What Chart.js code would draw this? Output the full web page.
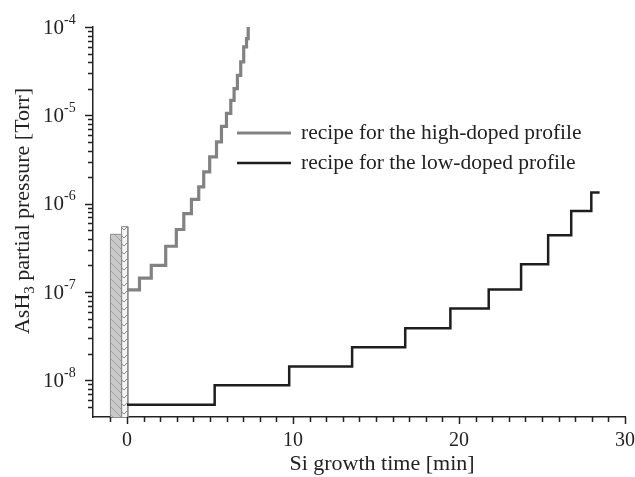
<!DOCTYPE html>
<html>
<head>
<meta charset="utf-8">
<script src="https://cdn.jsdelivr.net/npm/chart.js@4.4.0/dist/chart.umd.min.js"></script>
<style>
  html, body { margin: 0; padding: 0; background: #fff; }
</style>
</head>
<body>
<canvas id="myChart" width="635" height="477"></canvas>
<script>
// step start times [min] and AsH3 levels [Torr]; last point closes the final step
const hiTimes  = [0, 0.75, 1.46, 2.33, 2.97, 3.42, 3.88, 4.32, 4.62, 4.98, 5.39, 5.69, 5.99, 6.25, 6.45, 6.65, 6.85, 7.03, 7.2, 7.3, 7.4];
const hiLevels = [1.06e-7, 1.44e-7, 2.0e-7, 3.3e-7, 5.1e-7, 7.7e-7, 1.12e-6, 1.55e-6, 2.29e-6, 3.38e-6, 5.0e-6, 7.5e-6, 1.05e-5, 1.48e-5, 2.01e-5, 2.84e-5, 4.03e-5, 5.95e-5, 7.4e-5, 9.6e-5, 9.6e-5];

const loTimes  = [0, 5.28, 9.77, 13.56, 16.76, 19.48, 21.79, 23.74, 25.37, 26.76, 27.97, 28.47];
const loLevels = [5.3e-9, 8.8e-9, 1.44e-8, 2.37e-8, 3.9e-8, 6.5e-8, 1.07e-7, 2.06e-7, 4.39e-7, 8.26e-7, 1.34e-6, 1.34e-6];

const seriesNames = ['recipe for the high-doped profile', 'recipe for the low-doped profile'];

// pre-growth blocks before t = 0
const blockStarts = [-1.0, -0.33];
const blockEnds   = [-0.33, 0.05];
const blockTops   = [4.5e-7, 5.5e-7];

const xTickLabels = [0, 10, 20, 30];
const yTickExps   = [-8, -7, -6, -5, -4];

const xMin = -2.05, xMax = 30;
const yMin = 3.85e-9, yMax = 1e-4;

function pts(xs, ys) { return xs.map((x, i) => ({ x: x, y: ys[i] })); }

function blockPts(i) {
  return [
    { x: blockStarts[i], y: yMin }, { x: blockStarts[i], y: blockTops[i] },
    { x: blockEnds[i], y: blockTops[i] }, { x: blockEnds[i], y: yMin }
  ];
}

function hatch(bg, fg, kind) {
  const c = document.createElement('canvas');
  c.width = 8; c.height = 8;
  const g = c.getContext('2d');
  g.fillStyle = bg; g.fillRect(0, 0, 8, 8);
  g.strokeStyle = fg; g.lineWidth = 1;
  g.beginPath();
  if (kind === 'diag') {
    g.moveTo(0, 0); g.lineTo(8, 8);
    g.moveTo(-1, 7); g.lineTo(1, 9);
    g.moveTo(7, -1); g.lineTo(9, 1);
  } else {
    g.moveTo(0, 2); g.lineTo(4, 6); g.lineTo(8, 2);
  }
  g.stroke();
  return g.createPattern(c, 'repeat');
}

const serif = '"Liberation Serif", "DejaVu Serif", serif';

const axisDecor = {
  id: 'axisDecor',
  afterDraw(chart) {
    const ctx = chart.ctx, a = chart.chartArea;
    const x = chart.scales.x, y = chart.scales.y;
    ctx.save();
    ctx.strokeStyle = '#222';
    ctx.lineWidth = 1.5;
    ctx.beginPath();
    x.ticks.forEach(t => {
      const v = t.value;
      if (Math.abs(v - Math.round(v)) > 1e-6) return;
      const px = Math.round(x.getPixelForValue(v)) + 0.5;
      const len = Math.round(v) % 10 === 0 ? 7 : 5;
      ctx.moveTo(px, a.bottom); ctx.lineTo(px, a.bottom + len);
    });
    y.ticks.forEach(t => {
      const v = t.value;
      const e = Math.floor(Math.log10(v) + 1e-9);
      const m = v / Math.pow(10, e);
      if (Math.abs(m - Math.round(m)) > 1e-6) return;
      const py = Math.round(y.getPixelForValue(v)) + 0.5;
      const len = Math.round(m) === 1 ? 8 : 5;
      ctx.moveTo(a.left - len, py); ctx.lineTo(a.left, py);
    });
    ctx.stroke();

    ctx.fillStyle = '#222';
    // x labels
    ctx.font = '20px ' + serif;
    ctx.textAlign = 'center';
    ctx.textBaseline = 'alphabetic';
    xTickLabels.forEach(v => ctx.fillText(String(v), x.getPixelForValue(v), 446));

    // y labels with superscript exponents
    yTickExps.forEach(e => {
      const py = y.getPixelForValue(Math.pow(10, e));
      ctx.font = '21px ' + serif;
      ctx.textAlign = 'right';
      ctx.textBaseline = 'middle';
      ctx.fillText('10', 64, py + 1);
      ctx.font = '14px ' + serif;
      ctx.textAlign = 'left';
      ctx.fillText(String(e), 64, py - 7);
    });

    // x title
    ctx.font = '22px ' + serif;
    ctx.textAlign = 'center';
    ctx.textBaseline = 'alphabetic';
    ctx.fillText('Si growth time [min]', 382, 470);

    // y title with subscript
    ctx.save();
    ctx.translate(29, 211);
    ctx.rotate(-Math.PI / 2);
    const f1 = '22px ' + serif, f2 = '15px ' + serif;
    const p1 = 'AsH', p2 = '3', p3 = ' partial pressure [Torr]';
    ctx.font = f1; const w1 = ctx.measureText(p1).width, w3 = ctx.measureText(p3).width;
    ctx.font = f2; const w2 = ctx.measureText(p2).width;
    let cx = -(w1 + w2 + w3) / 2;
    ctx.textAlign = 'left';
    ctx.textBaseline = 'alphabetic';
    ctx.font = f1; ctx.fillText(p1, cx, 0); cx += w1;
    ctx.font = f2; ctx.fillText(p2, cx, 5); cx += w2;
    ctx.font = f1; ctx.fillText(p3, cx, 0);
    ctx.restore();

    // legend
    ctx.font = '21.5px ' + serif;
    ctx.textAlign = 'left';
    ctx.textBaseline = 'middle';
    [0, 1].forEach(i => {
      const ds = chart.data.datasets[i];
      const ly = i === 0 ? 133 : 163;
      ctx.strokeStyle = ds.borderColor;
      ctx.lineWidth = ds.borderWidth;
      ctx.beginPath(); ctx.moveTo(237, ly); ctx.lineTo(291, ly); ctx.stroke();
      ctx.fillStyle = '#222';
      ctx.fillText(ds.label, 301, ly);
    });
    ctx.restore();
  }
};

const ctx = document.getElementById('myChart').getContext('2d');
const chart = new Chart(ctx, {
  type: 'line',
  data: {
    datasets: [
      { label: seriesNames[0], data: pts(hiTimes, hiLevels), stepped: true, borderColor: '#828282', borderWidth: 3.2, pointRadius: 0, fill: false },
      { label: seriesNames[1], data: pts(loTimes, loLevels), stepped: true, borderColor: '#1e1e1e', borderWidth: 2.5, pointRadius: 0, fill: false },
      { label: 'block1', data: blockPts(0), borderColor: '#8a8a8a', borderWidth: 1, pointRadius: 0, tension: 0, fill: 'start', backgroundColor: hatch('#c9c9c9', '#a0a0a0', 'diag') },
      { label: 'block2', data: blockPts(1), borderColor: '#8a8a8a', borderWidth: 1, pointRadius: 0, tension: 0, fill: 'start', backgroundColor: hatch('#f4f4f4', '#8a8a8a', 'chev') }
    ]
  },
  options: {
    responsive: false,
    animation: false,
    devicePixelRatio: 1,
    layout: { padding: { left: 93, right: 10, top: 27, bottom: 60 } },
    plugins: { legend: { display: false }, tooltip: { enabled: false } },
    scales: {
      x: {
        type: 'linear', min: xMin, max: xMax,
        ticks: { display: false, stepSize: 1, autoSkip: false },
        grid: { display: false, drawTicks: false },
        border: { display: true, color: '#222', width: 1.5 }
      },
      y: {
        type: 'logarithmic', min: yMin, max: yMax,
        ticks: { display: false, autoSkip: false },
        grid: { display: false, drawTicks: false },
        border: { display: true, color: '#222', width: 1.5 }
      }
    }
  },
  plugins: [axisDecor]
});
</script>
</body>
</html>
